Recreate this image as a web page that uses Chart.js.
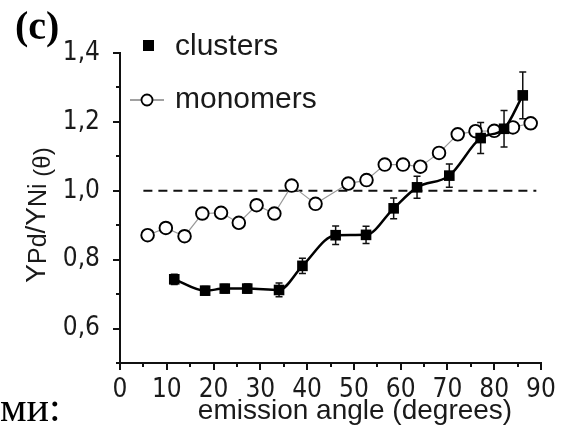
<!DOCTYPE html>
<html>
<head>
<meta charset="utf-8">
<script src="https://cdn.jsdelivr.net/npm/chart.js"></script>
<style>
  html, body { margin: 0; padding: 0; background: #fff; }
</style>
</head>
<body>
<canvas id="chart" width="567" height="437"></canvas>
<script>
// clusters (filled squares, with error bars)
const clusterAngles = [11.6, 18.2, 22.4, 27.2, 34.0, 39.0, 46.1, 52.6, 58.5, 63.5, 70.4, 77.1, 82.1, 86.1]
const clusterValues = [0.743, 0.710, 0.716, 0.716, 0.712, 0.782, 0.871, 0.872, 0.949, 1.010, 1.044, 1.153, 1.180, 1.277]
const clusterErrors = [0.015, 0.012, 0.012, 0.013, 0.020, 0.022, 0.027, 0.025, 0.030, 0.032, 0.034, 0.045, 0.053, 0.068]

// monomers (open circles)
const monomerAngles = [5.9, 9.8, 13.8, 17.6, 21.6, 25.4, 29.2, 33.0, 36.7, 41.8, 48.8, 52.7, 56.6, 60.5, 64.2, 68.2, 72.2, 76.0, 80.0, 84.0, 87.8]
const monomerValues = [0.871, 0.892, 0.868, 0.934, 0.936, 0.907, 0.958, 0.934, 1.015, 0.962, 1.021, 1.031, 1.076, 1.076, 1.070, 1.110, 1.164, 1.173, 1.174, 1.184, 1.196]

// dashed reference at ratio = 1
const refAngles = [5, 89]
const refValues = [1.0, 1.0]

const xTickValues = [0, 10, 20, 30, 40, 50, 60, 70, 80, 90]
const xTickLabels = ['0', '10', '20', '30', '40', '50', '60', '70', '80', '90']
const yTickValues = [0.6, 0.8, 1.0, 1.2, 1.4]
const yTickLabels = ['0,6', '0,8', '1,0', '1,2', '1,4']

const sans = "'Liberation Sans', Arial, sans-serif"
const narrow = "'Liberation Sans Narrow', 'Arial Narrow', 'DejaVu Sans Condensed', sans-serif"
const serif = "'Liberation Serif', 'Times New Roman', serif"
const ink = '#1a1a1a'

const toPoints = (xs, ys) => xs.map((x, i) => ({ x: x, y: ys[i] }))

// ticks, error bars, legend and free text
const decorations = {
  id: 'decorations',
  beforeDatasetsDraw(chart) {
    const ctx = chart.ctx
    const x = chart.scales.x, y = chart.scales.y
    ctx.save()
    ctx.strokeStyle = '#111'
    ctx.lineWidth = 1.5
    clusterAngles.forEach((a, i) => {
      const px = x.getPixelForValue(a)
      const top = y.getPixelForValue(clusterValues[i] + clusterErrors[i])
      const bot = y.getPixelForValue(clusterValues[i] - clusterErrors[i])
      ctx.beginPath()
      ctx.moveTo(px, top); ctx.lineTo(px, bot)
      ctx.moveTo(px - 3.5, top); ctx.lineTo(px + 3.5, top)
      ctx.moveTo(px - 3.5, bot); ctx.lineTo(px + 3.5, bot)
      ctx.stroke()
    })
    ctx.restore()
  },
  afterDraw(chart) {
    const ctx = chart.ctx
    const x = chart.scales.x, y = chart.scales.y
    const area = chart.chartArea
    ctx.save()

    // tick marks, major and minor
    ctx.strokeStyle = '#111'
    ctx.lineWidth = 2
    for (let v = 0; v <= 90; v += 5) {
      const px = Math.round(x.getPixelForValue(v))
      const len = v % 10 === 0 ? 7 : 4
      ctx.beginPath()
      ctx.moveTo(px, area.bottom); ctx.lineTo(px, area.bottom + len)
      ctx.stroke()
    }
    for (let k = 5; k <= 14; k++) {
      const py = Math.round(y.getPixelForValue(k / 10))
      const len = k % 2 === 0 ? 7 : 4
      ctx.beginPath()
      ctx.moveTo(area.left, py); ctx.lineTo(area.left - len, py)
      ctx.stroke()
    }

    // legend
    ctx.fillStyle = '#000'
    ctx.fillRect(143, 40, 11, 11)
    ctx.strokeStyle = '#444'
    ctx.lineWidth = 1.2
    ctx.beginPath()
    ctx.moveTo(130, 100); ctx.lineTo(164, 100)
    ctx.stroke()
    ctx.beginPath()
    ctx.arc(147, 100, 5.5, 0, Math.PI * 2)
    ctx.fillStyle = '#fff'
    ctx.fill()
    ctx.strokeStyle = '#000'
    ctx.lineWidth = 1.8
    ctx.stroke()

    ctx.fillStyle = ink
    ctx.textBaseline = 'alphabetic'
    ctx.textAlign = 'left'
    ctx.font = '30px ' + sans
    ctx.fillText('clusters', 175, 55)
    ctx.fillText('monomers', 175, 108)

    // x axis title
    ctx.font = '28px ' + sans
    ctx.textAlign = 'center'
    ctx.fillText('emission angle (degrees)', 355, 419)

    // y axis title with subscripts
    const parts = [
      { t: 'Y', size: 28, dy: 0 },
      { t: 'Pd', size: 25, dy: 1 },
      { t: '/', size: 28, dy: 0 },
      { t: 'Y', size: 28, dy: 0 },
      { t: 'Ni', size: 25, dy: 1 },
      { t: ' (θ)', size: 24, dy: 5 }
    ]
    let total = 0
    parts.forEach(p => { ctx.font = p.size + 'px ' + sans; p.w = ctx.measureText(p.t).width; total += p.w })
    ctx.translate(45, 215)
    ctx.rotate(-Math.PI / 2)
    ctx.textAlign = 'left'
    let cx = -total / 2
    parts.forEach(p => {
      ctx.font = p.size + 'px ' + sans
      ctx.fillText(p.t, cx, p.dy)
      cx += p.w
    })
    ctx.setTransform(1, 0, 0, 1, 0, 0)

    // panel letter and stray caption text
    ctx.fillStyle = '#000'
    ctx.font = 'bold 40px ' + serif
    ctx.textAlign = 'left'
    ctx.fillText('(c)', 15, 39)
    ctx.font = '42px ' + serif
    ctx.fillText('ми:', 0, 421)

    ctx.restore()
  }
}

new Chart(document.getElementById('chart'), {
  type: 'line',
  data: {
    datasets: [
      {
        label: 'clusters',
        data: toPoints(clusterAngles, clusterValues),
        borderColor: '#000',
        borderWidth: 2.5,
        cubicInterpolationMode: 'monotone',
        pointStyle: 'rect',
        pointRadius: 7.5,
        pointBackgroundColor: '#000',
        pointBorderColor: '#000',
        pointBorderWidth: 0
      },
      {
        label: 'monomers',
        data: toPoints(monomerAngles, monomerValues),
        borderColor: '#999',
        borderWidth: 1.2,
        tension: 0,
        pointStyle: 'circle',
        pointRadius: 6.3,
        pointBackgroundColor: '#fff',
        pointBorderColor: '#000',
        pointBorderWidth: 1.9
      },
      {
        label: 'ref',
        data: toPoints(refAngles, refValues),
        borderColor: '#111',
        borderWidth: 2,
        borderDash: [9, 6],
        pointRadius: 0
      }
    ]
  },
  options: {
    responsive: false,
    animation: false,
    devicePixelRatio: 1,
    layout: { padding: { left: 0, right: 26, top: 53, bottom: 0 } },
    plugins: {
      legend: { display: false },
      tooltip: { enabled: false }
    },
    scales: {
      x: {
        type: 'linear',
        min: 0,
        max: 90,
        afterBuildTicks: s => { s.ticks = xTickValues.map(v => ({ value: v })) },
        afterFit: s => { s.height = 74 },
        grid: { display: false },
        border: { display: true, color: '#111', width: 2 },
        ticks: {
          autoSkip: false,
          maxRotation: 0,
          padding: 4,
          color: ink,
          font: { family: narrow, size: 26 },
          callback: v => xTickLabels[xTickValues.indexOf(v)]
        }
      },
      y: {
        type: 'linear',
        min: 0.5,
        max: 1.4,
        afterBuildTicks: s => { s.ticks = yTickValues.map(v => ({ value: v })) },
        afterFit: s => { s.width = 120 },
        grid: { display: false },
        border: { display: true, color: '#111', width: 2 },
        ticks: {
          autoSkip: false,
          padding: 12,
          color: ink,
          font: { family: narrow, size: 26 },
          callback: v => yTickLabels[yTickValues.findIndex(t => Math.abs(t - v) < 1e-6)]
        }
      }
    }
  },
  plugins: [decorations]
})
</script>
</body>
</html>
